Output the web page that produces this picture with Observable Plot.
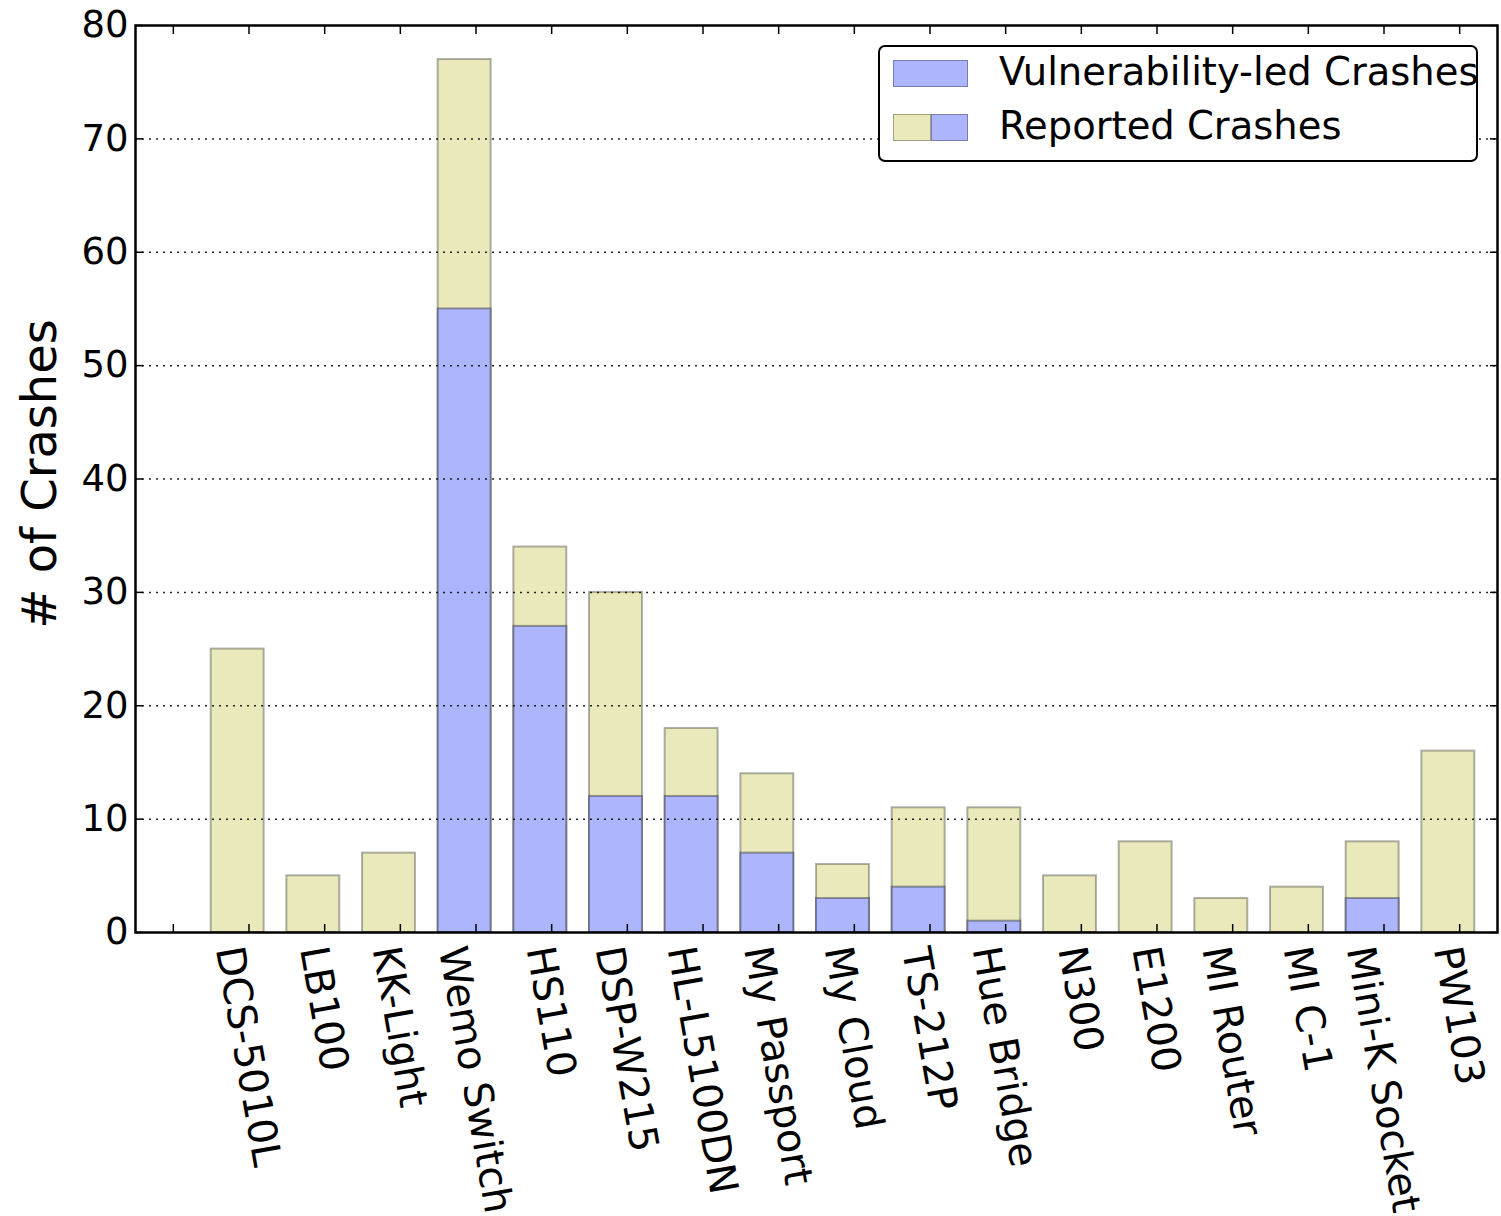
<!DOCTYPE html>
<html>
<head>
<meta charset="utf-8">
<script src="https://cdn.jsdelivr.net/npm/d3@7"></script>
<script src="https://cdn.jsdelivr.net/npm/@observablehq/plot@0.6"></script>
<style>
  html, body { margin: 0; padding: 0; background: #fff; }
  #wrap { position: relative; width: 1501px; height: 1216px; font-family: "DejaVu Sans", sans-serif; }
  #chart { position: absolute; left: 0; top: 0; }
  .lg { position: absolute; }
  .lgbox { left: 878px; top: 45px; width: 596px; height: 113px; border: 2px solid #000; border-radius: 7px; background: #fff; }
  .sw { position: absolute; height: 25px; border: 1.5px solid rgba(0,0,0,0.3); box-sizing: content-box; }
  .lgtext { position: absolute; font-size: 38.5px; line-height: 38px; color: #000; white-space: nowrap; }
</style>
</head>
<body>
<div id="wrap">
  <div id="chart"></div>
</div>
<script>
// ---- data ----
const categories = ["DCS-5010L", "LB100", "KK-Light", "Wemo Switch", "HS110", "DSP-W215", "HL-L5100DN",
  "My Passport", "My Cloud", "TS-212P", "Hue Bridge", "N300", "E1200", "MI Router", "MI C-1", "Mini-K Socket", "PW103"];
const reportedCrashes = [25, 5, 7, 77, 34, 30, 18, 14, 6, 11, 11, 5, 8, 3, 4, 8, 16];
const vulnerabilityCrashes = [0, 0, 0, 55, 27, 12, 12, 7, 3, 4, 1, 0, 0, 0, 0, 3, 0];
const yTicks = [0, 10, 20, 30, 40, 50, 60, 70, 80];
const gridTicks = [10, 20, 30, 40, 50, 60, 70];
const seriesNames = ["Vulnerability-led Crashes", "Reported Crashes"];
const yLabel = "# of Crashes";

const colorVuln = "#adb5fd";
const colorRep = "#e9e9bb";
const labelAngle = 80;

const rows = categories.map((c, i) => ({name: c, idx: i, reported: reportedCrashes[i], vuln: vulnerabilityCrashes[i]}));
const xTickPos = d3.range(categories.length + 1).map(i => i + 0.5);
const labelRows = rows.map(r => ({name: r.name, pos: r.idx + 1.5}));

const chart = Plot.plot({
  width: 1501,
  height: 1216,
  marginLeft: 135,
  marginRight: 4,
  marginTop: 25,
  marginBottom: 284,
  style: {fontFamily: "DejaVu Sans", fontSize: "37px", color: "#000", background: "#fff"},
  x: {type: "linear", domain: [0, categories.length + 1]},
  y: {domain: [0, 80]},
  marks: [
    Plot.rectY(rows, {x1: d => d.idx + 1, x2: d => d.idx + 1.7, y: "reported", fill: colorRep,
      stroke: "#000", strokeOpacity: 0.3, strokeWidth: 2}),
    Plot.rectY(rows.filter(d => d.vuln > 0), {x1: d => d.idx + 1, x2: d => d.idx + 1.7, y: "vuln", fill: colorVuln,
      stroke: "#000", strokeOpacity: 0.35, strokeWidth: 2}),
    Plot.gridY(gridTicks, {stroke: "#000", strokeOpacity: 0.85, strokeWidth: 1.5, strokeDasharray: "2,5"}),
    // inward ticks on all four sides
    Plot.axisY(yTicks, {anchor: "left", tickSize: 8, dx: 8, tickFormat: () => "", strokeWidth: 1.5, label: null}),
    Plot.axisY(yTicks, {anchor: "right", tickSize: 8, dx: -8, tickFormat: () => "", strokeWidth: 1.5, label: null}),
    Plot.axisX(xTickPos, {anchor: "bottom", tickSize: 8, dy: -8, tickFormat: () => "", strokeWidth: 1.5, label: null}),
    Plot.axisX(xTickPos, {anchor: "top", tickSize: 8, dy: 8, tickFormat: () => "", strokeWidth: 1.5, label: null}),
    // y tick labels
    Plot.axisY(yTicks, {anchor: "left", tickSize: 0, tickPadding: 7, fontSize: 37, label: null}),
    // x category labels (rotated)
    Plot.text(labelRows, {x: "pos", frameAnchor: "bottom", text: "name", rotate: labelAngle,
      textAnchor: "start", lineAnchor: "top", fontSize: 40, fill: "#000"}),
    // y axis title
    Plot.text([yLabel], {frameAnchor: "left", text: d => d, rotate: -90, dx: -95, dy: -5,
      textAnchor: "middle", lineAnchor: "middle", fontSize: 48, fill: "#000"}),
    Plot.frame({stroke: "#000", strokeWidth: 2.5})
  ]
});
document.getElementById("chart").append(chart);

// center each rotated label's bounding box on its tick (matplotlib style)
const theta = labelAngle * Math.PI / 180, c = Math.cos(theta), s = Math.sin(theta);
const pad = 10;
chart.querySelectorAll("text").forEach(el => {
  const tr = el.getAttribute("transform") || "";
  if (!tr.includes(`rotate(${labelAngle}`)) return;
  const bb = el.getBBox();
  const pts = [[bb.x, bb.y], [bb.x + bb.width, bb.y], [bb.x, bb.y + bb.height], [bb.x + bb.width, bb.y + bb.height]]
    .map(([px, py]) => [px * c - py * s, px * s + py * c]);
  const xs = pts.map(p => p[0]), ys = pts.map(p => p[1]);
  const sx = -(Math.min(...xs) + Math.max(...xs)) / 2;
  const sy = pad - Math.min(...ys);
  el.setAttribute("transform", `translate(${sx},${sy}) ` + tr);
});

// legend (inside the plot area, upper right)
const wrap = document.getElementById("wrap");
const box = document.createElement("div");
box.className = "lg lgbox";
wrap.appendChild(box);
function sw(left, top, width, color) {
  const d = document.createElement("div");
  d.className = "sw";
  d.style.left = left + "px"; d.style.top = top + "px"; d.style.width = width + "px"; d.style.background = color;
  wrap.appendChild(d);
}
function txt(left, top, t) {
  const d = document.createElement("div");
  d.className = "lgtext";
  d.style.left = left + "px"; d.style.top = top + "px";
  d.textContent = t;
  wrap.appendChild(d);
}
sw(893, 60, 73, colorVuln);
txt(999, 53, seriesNames[0]);
sw(893, 114, 36, colorRep);
sw(931, 114, 35, colorVuln);
txt(999, 107, seriesNames[1]);
</script>
</body>
</html>
